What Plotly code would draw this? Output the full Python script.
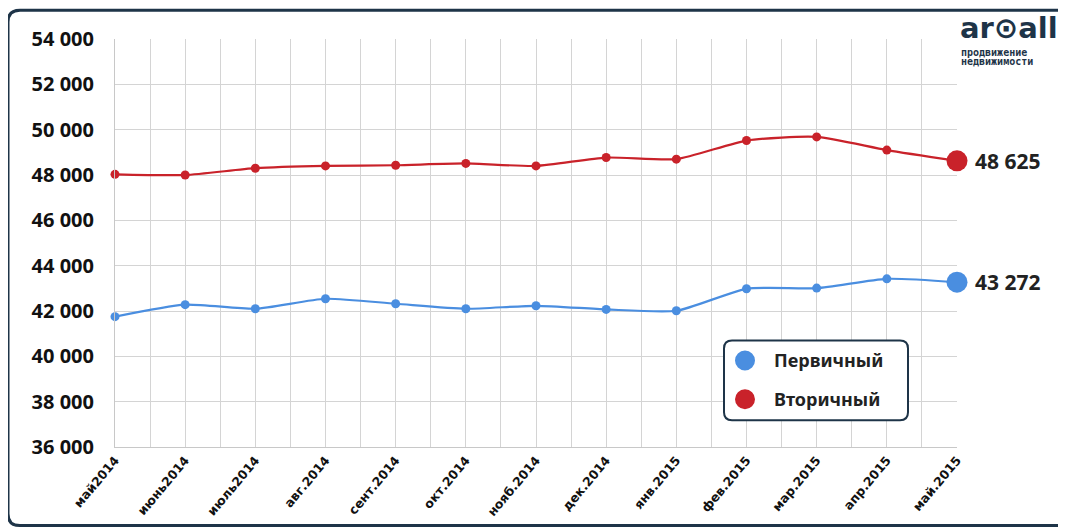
import plotly.graph_objects as go

categories = ["май2014", "июнь2014", "июль2014", "авг.2014", "сент.2014", "окт.2014",
              "нояб.2014", "дек.2014", "янв.2015", "фев.2015", "мар.2015", "апр.2015", "май.2015"]
primary = [41750, 42280, 42100, 42540, 42320, 42100, 42230, 42070, 42010, 42980, 43010, 43420, 43272]
secondary = [48030, 48000, 48300, 48400, 48430, 48510, 48400, 48770, 48700, 49520, 49680, 49100, 48625]
y_ticks = [36000, 38000, 40000, 42000, 44000, 46000, 48000, 50000, 52000, 54000]
series_names = ["Первичный", "Вторичный"]

BLUE = "#4a8ee0"
RED = "#c9222a"
NAVY = "#1e3448"
colors = [BLUE, RED]

OFF = 8  # page body offset
W, H = 1058, 523
L, R, T, B = 107, 109, 31, 82
pw, ph = W - L - R, H - T - B

def px_x(p):
    return (p - OFF - L) / pw

def px_y(p):
    return (H - B - (p - OFF)) / ph

def fmt(v):
    return f"{v:,}".replace(",", " ")

xs = list(range(len(categories)))
n = len(categories)

fig = go.Figure()
for vals, col in zip([primary, secondary], colors):
    fig.add_trace(go.Scatter(
        x=xs, y=vals, mode="lines+markers",
        line=dict(color=col, width=2.2, shape="spline", smoothing=0.6),
        marker=dict(color=col, size=9, opacity=1),
        showlegend=False, hoverinfo="skip", cliponaxis=False))
    fig.add_trace(go.Scatter(
        x=[xs[-1]], y=[vals[-1]], mode="markers",
        marker=dict(color=col, size=21, opacity=1),
        showlegend=False, hoverinfo="skip", cliponaxis=False))

for vals in (secondary, primary):
    fig.add_annotation(x=xs[-1], y=vals[-1], text=fmt(vals[-1]), showarrow=False,
                       xanchor="left", xshift=16,
                       font=dict(family="Noto Sans", size=21, color="#222222", weight="bold"))

# frame
x0, y0, x1, y1, r = 8, 10, 1090, 528, 12
path = (f"M {px_x(x0)},{px_y(y0 + r)} "
        f"Q {px_x(x0)},{px_y(y0)} {px_x(x0 + r)},{px_y(y0)} "
        f"L {px_x(x1)},{px_y(y0)} L {px_x(x1)},{px_y(y1)} "
        f"L {px_x(x0 + r)},{px_y(y1)} "
        f"Q {px_x(x0)},{px_y(y1)} {px_x(x0)},{px_y(y1 - r)} Z")
fig.add_shape(type="path", path=path, xref="paper", yref="paper",
              line=dict(color=NAVY, width=3), layer="below")

# legend box (rounded)
lx0, ly0, lx1, ly1, lr = 724, 342, 908, 422, 8
lpath = (f"M {px_x(lx0)},{px_y(ly0 + lr)} "
         f"Q {px_x(lx0)},{px_y(ly0)} {px_x(lx0 + lr)},{px_y(ly0)} "
         f"L {px_x(lx1 - lr)},{px_y(ly0)} Q {px_x(lx1)},{px_y(ly0)} {px_x(lx1)},{px_y(ly0 + lr)} "
         f"L {px_x(lx1)},{px_y(ly1 - lr)} Q {px_x(lx1)},{px_y(ly1)} {px_x(lx1 - lr)},{px_y(ly1)} "
         f"L {px_x(lx0 + lr)},{px_y(ly1)} Q {px_x(lx0)},{px_y(ly1)} {px_x(lx0)},{px_y(ly1 - lr)} Z")
fig.add_shape(type="path", path=lpath, xref="paper", yref="paper",
              line=dict(color=NAVY, width=2), fillcolor="white", layer="above")

# legend entries (manual)
item_y = [362, 401]
for name, col, iy in zip(series_names, colors, item_y):
    cx, rad = 745, 10
    fig.add_shape(type="circle", xref="paper", yref="paper",
                  x0=px_x(cx - rad), x1=px_x(cx + rad), y0=px_y(iy + rad), y1=px_y(iy - rad),
                  fillcolor=col, line=dict(color=col, width=0), layer="above")
    fig.add_annotation(x=px_x(772), y=px_y(iy), xref="paper", yref="paper",
                       xanchor="left", yanchor="middle", text=name, showarrow=False,
                       font=dict(family="Noto Sans", size=18, color="#222222", weight="bold"))

# logo
fig.add_annotation(x=px_x(959), y=px_y(46), xref="paper", yref="paper", xanchor="left", yanchor="bottom",
                   text="ar⊙all", showarrow=False, borderpad=0,
                   font=dict(family="DejaVu Sans", size=29, color=NAVY, weight="bold"))
for txt, ty in [("продвижение", 53), ("недвижимости", 62)]:
    fig.add_annotation(x=px_x(960), y=px_y(ty), xref="paper", yref="paper", xanchor="left", yanchor="middle",
                       text=txt, showarrow=False, borderpad=0,
                       font=dict(family="DejaVu Sans Mono", size=10, color=NAVY, weight="bold"))

fig.update_layout(
    width=W, height=H,
    margin=dict(l=L, r=R, t=T, b=B),
    paper_bgcolor="white", plot_bgcolor="white",
    showlegend=False,
    xaxis=dict(range=[0, n - 1], tickvals=xs, ticktext=categories, tickangle=-50,
               showgrid=True, gridcolor="#d4d4d4", gridwidth=1,
               minor=dict(tickvals=[i + 0.5 for i in xs[:-1]], showgrid=True, gridcolor="#d4d4d4"),
               showline=True, linecolor="#c8c8c8", zeroline=False, ticks="",
               tickfont=dict(family="DejaVu Sans", size=12.5, color="#111111", weight="bold")),
    yaxis=dict(range=[y_ticks[0], y_ticks[-1]], tickvals=y_ticks, ticktext=[fmt(v) for v in y_ticks],
               showgrid=True, gridcolor="#d4d4d4", gridwidth=1, zeroline=False,
               showline=True, linecolor="#c8c8c8", ticks="", ticklabelstandoff=16,
               tickfont=dict(family="Noto Sans", size=20, color="#111111", weight="bold")),
)

fig.write_html("out.html")
